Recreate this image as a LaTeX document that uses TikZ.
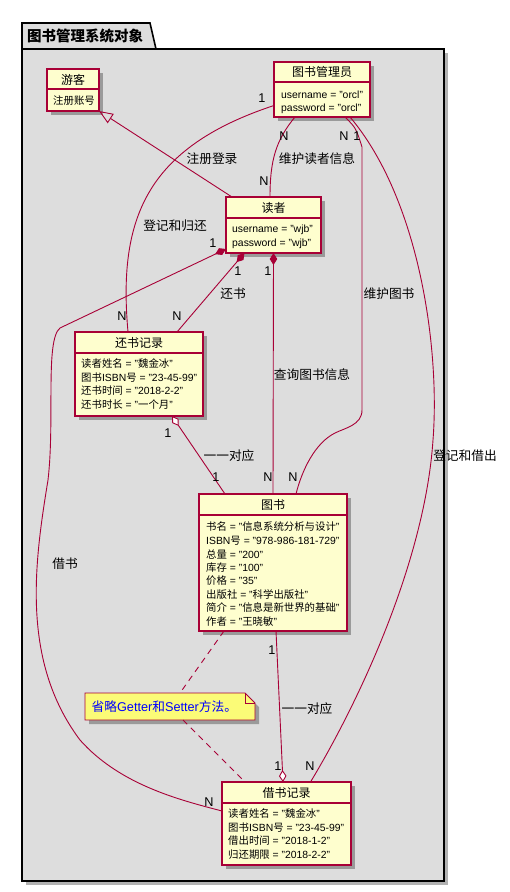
\documentclass[tikz,border=0pt]{standalone}
\usepackage{fontspec}
\setmainfont{Liberation Sans}
\newfontfamily\cjkfont{Noto Sans CJK SC}
% switch to the CJK family automatically for Han characters and CJK punctuation
\XeTeXinterchartokenstate=1
\newXeTeXintercharclass\HanClass
\newcount\hanchar
\def\sethanrange#1#2{\hanchar=#1\relax
  \loop\XeTeXcharclass\hanchar=\HanClass
  \ifnum\hanchar<#2\advance\hanchar by 1\repeat}
\sethanrange{"3000}{"303F}
\sethanrange{"4E00}{"9FFF}
\sethanrange{"FF00}{"FFEF}
\XeTeXinterchartoks 0 \HanClass = {\begingroup\cjkfont}
\XeTeXinterchartoks 4095 \HanClass = {\begingroup\cjkfont}
\XeTeXinterchartoks \HanClass 0 = {\endgroup}
\XeTeXinterchartoks \HanClass 4095 = {\endgroup}
\usetikzlibrary{arrows.meta,shadows}
\definecolor{umlred}{HTML}{A80036}
\definecolor{umlfill}{HTML}{FEFECE}
\definecolor{pkgfill}{HTML}{DDDDDD}
\definecolor{notefill}{HTML}{FBFB77}
\tikzset{
  fdiam/.tip={Diamond[length=12pt,width=7.5pt,fill=umlred]},
  odiam/.tip={Diamond[open,length=12pt,width=7.5pt,fill=white]},
  otri/.tip={Triangle[open,length=14pt,width=11pt]},
}
\begin{document}
\begin{tikzpicture}[x=1pt,y=-1pt,
  boxshadow/.style={drop shadow={shadow xshift=4pt,shadow yshift=-4pt,opacity=0.3,fill=black}},
  cls/.style={draw=umlred,fill=umlfill,line width=1.2pt,inner sep=0pt,outer sep=0pt,anchor=north west,boxshadow},
  clsline/.style={draw=umlred,line width=1.2pt},
  clsname/.style={font=\fontsize{12}{14}\selectfont,inner sep=0pt},
  attr/.style={anchor=west,font=\fontsize{10.4}{12}\selectfont,inner sep=0pt},
  link/.style={draw=umlred,line width=0.9pt},
  notelink/.style={link,dash pattern=on 6pt off 5pt},
  lbl/.style={font=\fontsize{12.7}{15}\selectfont,inner sep=0pt},
]
\useasboundingbox (0,0) rectangle (509,892);
\fill[white] (0,0) rectangle (509,892);

% package frame with its tab
\node[draw=black,fill=pkgfill,line width=1.6pt,inner sep=0pt,outer sep=0pt,anchor=north west,
      minimum width=422pt,minimum height=832pt,boxshadow] (pkg) at (22,49) {};
\draw[line width=1.6pt,fill=pkgfill] (pkg.north west) -- ++(0,-26) -- ++(128,0) -- ++(6,26) -- cycle;
\node[anchor=west,inner sep=0pt,font=\fontsize{14.5}{16}\selectfont\bfseries] (pkg-title) at (27,36) {图书管理系统对象};

% classes
\node[cls,minimum width=52pt,minimum height=42pt] (visitor) at (47,69) {};
\draw[clsline] ([yshift=-20pt]visitor.north west) -- ([yshift=-20pt]visitor.north east);
\node[clsname] (visitor-n) at (73,79.5) {游客};
\node[attr] (visitor-a1) at (53,100.5) {注册账号};

\node[cls,minimum width=96pt,minimum height=55pt] (admin) at (274,62) {};
\draw[clsline] ([yshift=-20pt]admin.north west) -- ([yshift=-20pt]admin.north east);
\node[clsname] (admin-n) at (322,72) {图书管理员};
\node[attr] (admin-a1) at (281,95) {username = "orcl"};
\node[attr] (admin-a2) at (281,109) {password = "orcl"};

\node[cls,minimum width=95pt,minimum height=56pt] (reader) at (226,197) {};
\draw[clsline] ([yshift=-21pt]reader.north west) -- ([yshift=-21pt]reader.north east);
\node[clsname] (reader-n) at (273.5,207.5) {读者};
\node[attr] (reader-a1) at (232,230) {username = "wjb"};
\node[attr] (reader-a2) at (232,243.5) {password = "wjb"};

\node[cls,minimum width=128pt,minimum height=84pt] (retrec) at (75,332) {};
\draw[clsline] ([yshift=-21pt]retrec.north west) -- ([yshift=-21pt]retrec.north east);
\node[clsname] (retrec-n) at (139,342.5) {还书记录};
\node[attr] (retrec-a1) at (81,364) {读者姓名 = "魏金冰"};
\node[attr] (retrec-a2) at (81,377.5) {图书ISBN号 = "23-45-99"};
\node[attr] (retrec-a3) at (81,391) {还书时间 = "2018-2-2"};
\node[attr] (retrec-a4) at (81,404.5) {还书时长 = "一个月"};

\node[cls,minimum width=148pt,minimum height=137pt] (book) at (199,494) {};
\draw[clsline] ([yshift=-21pt]book.north west) -- ([yshift=-21pt]book.north east);
\node[clsname] (book-n) at (273,504.5) {图书};
\node[attr] (book-a1) at (206,527) {书名 = "信息系统分析与设计"};
\node[attr] (book-a2) at (206,540.5) {ISBN号 = "978-986-181-729"};
\node[attr] (book-a3) at (206,554) {总量 = "200"};
\node[attr] (book-a4) at (206,567.5) {库存 = "100"};
\node[attr] (book-a5) at (206,581) {价格 = "35"};
\node[attr] (book-a6) at (206,594.5) {出版社 = "科学出版社"};
\node[attr] (book-a7) at (206,608) {简介 = "信息是新世界的基础"};
\node[attr] (book-a8) at (206,621.5) {作者 = "王晓敏"};

\node[cls,minimum width=129pt,minimum height=83pt] (borrec) at (222,782) {};
\draw[clsline] ([yshift=-21pt]borrec.north west) -- ([yshift=-21pt]borrec.north east);
\node[clsname] (borrec-n) at (286.5,792.5) {借书记录};
\node[attr] (borrec-a1) at (228,814) {读者姓名 = "魏金冰"};
\node[attr] (borrec-a2) at (228,827.5) {图书ISBN号 = "23-45-99"};
\node[attr] (borrec-a3) at (228,841) {借出时间 = "2018-1-2"};
\node[attr] (borrec-a4) at (228,854.5) {归还期限 = "2018-2-2"};

% note with folded corner
\node[inner sep=0pt,outer sep=0pt,anchor=north west,minimum width=170pt,minimum height=27pt] (note) at (85,693) {};
\filldraw[draw=umlred,fill=notefill,line width=0.9pt,boxshadow]
  (note.south west) -- (note.north west) -- ([xshift=-10pt]note.north east)
  -- ([yshift=-10pt]note.north east) -- (note.south east) -- cycle;
\draw[draw=umlred,line width=0.9pt] ([xshift=-10pt]note.north east) -- ([xshift=-10pt,yshift=-10pt]note.north east) -- ([yshift=-10pt]note.north east);
\node[lbl,anchor=west,text=blue] (note-t) at (91.5,707) {省略Getter和Setter方法。};

% connectors
\draw[link,-otri] ([xshift=6pt]reader.north west) -- (visitor.south east);
\draw[link] ([xshift=21pt]admin.south west) .. controls (276,140) and (270,160) .. ([xshift=-3.5pt]reader.north);
\draw[link] ([yshift=-16pt]admin.west) .. controls (145,148) and (118,220) .. ([xshift=-11pt]retrec.north);
\draw[link] ([xshift=-25pt]admin.south east) .. controls (356,128) .. (362,147) -- (362,410)
  .. controls (362,425) and (345,428) .. (335,433) .. controls (315,443) and (302,470) .. ([xshift=23pt]book.north);
\draw[link] ([xshift=-20pt]admin.south east) .. controls (420,200) and (440,350) .. (433,440)
  .. controls (425,560) and (360,700) .. ([xshift=24pt]borrec.north);
\draw[link,fdiam-] ([xshift=-29pt]reader.south) -- ([xshift=38pt]retrec.north);
\draw[link,fdiam-] (reader.south) -- (book.north);
\draw[link,fdiam-] ([yshift=4pt]reader.south west) -- (60,328) .. controls (45,340) and (55,420) .. (48,480)
  .. controls (35,560) and (20,660) .. (80,740) .. controls (120,785) and (180,800) .. ([yshift=12.5pt]borrec.west);
\draw[link,odiam-] ([xshift=33pt]retrec.south) -- ([xshift=-48pt]book.north);
\draw[link,-odiam] ([xshift=3pt]book.south) -- ([xshift=-3.5pt]borrec.north);
\draw[notelink] ([xshift=-49pt]book.south) -- ([xshift=10pt]note.north);
\draw[notelink] ([xshift=13pt]note.south) -- ([xshift=-41.5pt]borrec.north);

% connector labels
\node[lbl] (l-reg) at (212,159) {注册登录};
\node[lbl] (l-mr) at (317,159) {维护读者信息};
\node[lbl] (l-rr) at (175,226) {登记和归还};
\node[lbl] (l-ret) at (233,294) {还书};
\node[lbl] (l-mb) at (389,294) {维护图书};
\node[lbl] (l-q) at (312,375) {查询图书信息};
\node[lbl] (l-o1) at (229,456) {一一对应};
\node[lbl] (l-rb) at (465,456) {登记和借出};
\node[lbl] (l-bor) at (65,564) {借书};
\node[lbl] (l-o2) at (307,709) {一一对应};

% multiplicities
\node[lbl] (m1) at (262,98) {1};
\node[lbl] (m2) at (284,136) {N};
\node[lbl] (m3) at (264,181) {N};
\node[lbl] (m4) at (344,136) {N};
\node[lbl] (m5) at (357,136) {1};
\node[lbl] (m6) at (213,243) {1};
\node[lbl] (m7) at (238,271) {1};
\node[lbl] (m8) at (268,271) {1};
\node[lbl] (m9) at (122,316) {N};
\node[lbl] (m10) at (177,316) {N};
\node[lbl] (m11) at (168,433) {1};
\node[lbl] (m12) at (216,477) {1};
\node[lbl] (m13) at (268,477) {N};
\node[lbl] (m14) at (293,477) {N};
\node[lbl] (m15) at (272,650) {1};
\node[lbl] (m16) at (278,766) {1};
\node[lbl] (m17) at (310,766) {N};
\node[lbl] (m18) at (209,802) {N};
\end{tikzpicture}
\end{document}
